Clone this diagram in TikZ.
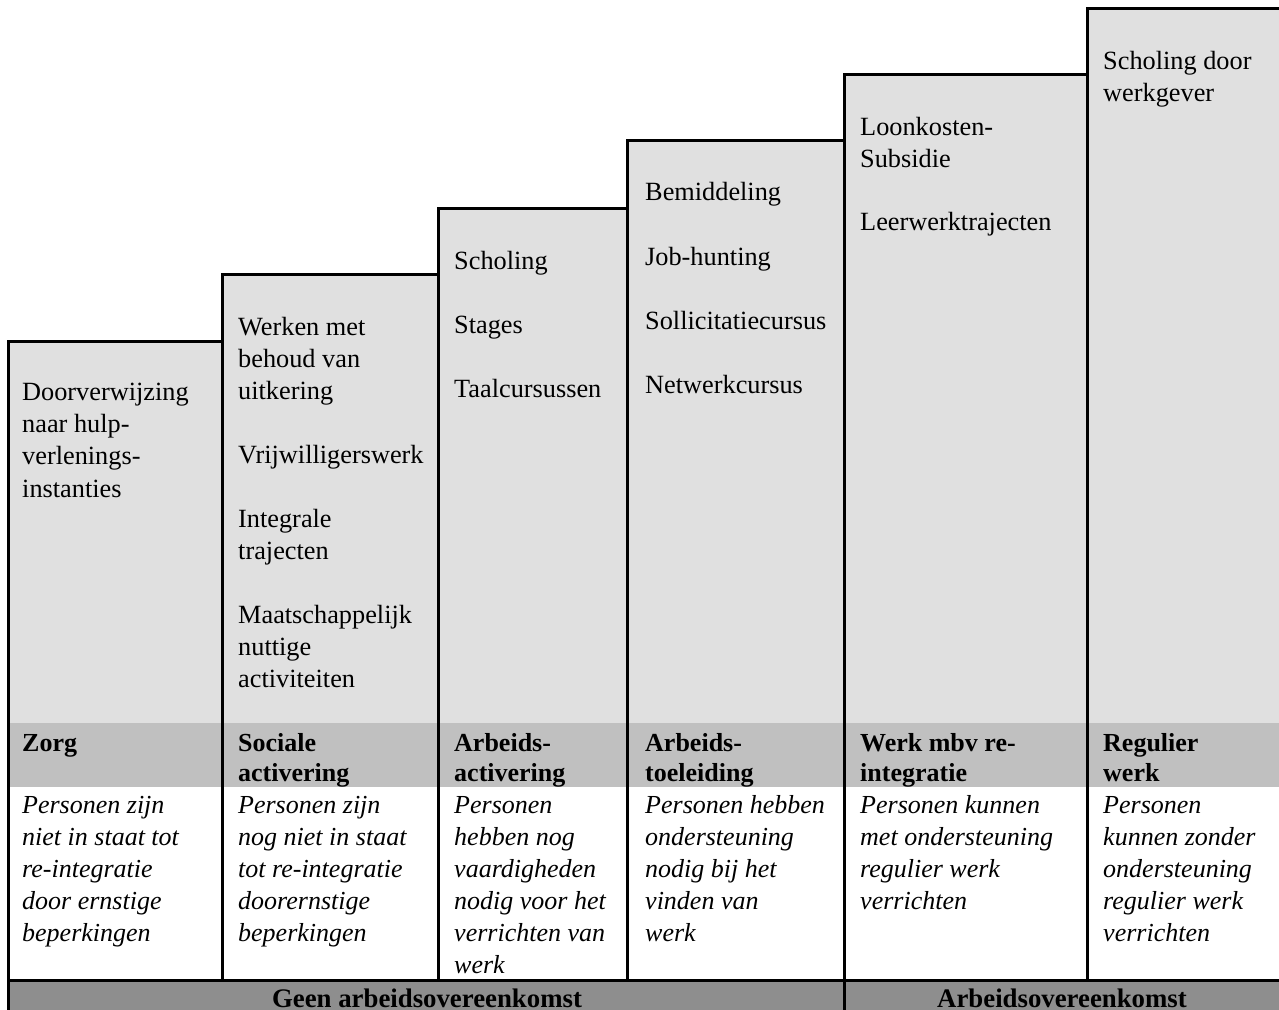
\documentclass[tikz,border=0pt]{standalone}
\usepackage{fontspec}
\setmainfont{Liberation Serif}
\definecolor{lightgr}{HTML}{E0E0E0}
\definecolor{bandgr}{HTML}{C0C0C0}
\definecolor{bargr}{HTML}{8E8E8E}
\begin{document}
\begin{tikzpicture}[x=1pt,y=-1pt,
  txt/.style={anchor=base west, inner sep=0pt, align=left, font=\fontsize{26.3}{32.4}\selectfont},
  hdr/.style={anchor=base west, inner sep=0pt, align=left, font=\fontsize{26}{30.5}\selectfont\bfseries},
  desc/.style={anchor=base west, inner sep=0pt, align=left, font=\fontsize{26}{32.1}\selectfont\itshape},
  bar/.style={anchor=base, inner sep=0pt, font=\fontsize{26.8}{30}\selectfont\bfseries},
  edge/.style={line width=3pt, black}]
\path[use as bounding box] (0,0) rectangle (1279,1009);
\clip (0,0) rectangle (1279,1009);
\fill[white] (0,0) rectangle (1279,1009);
% column fills
\fill[lightgr] (8,341) rectangle (222,723);
\fill[lightgr] (222,274) rectangle (438,723);
\fill[lightgr] (438,208) rectangle (627,723);
\fill[lightgr] (627,140) rectangle (844,723);
\fill[lightgr] (844,74) rectangle (1087,723);
\fill[lightgr] (1087,8) rectangle (1279,723);
\fill[bandgr] (8,723) rectangle (1279,787);
\fill[bargr] (8,980) rectangle (1279,1015);
% outlines
\draw[edge] (8,1015) -- (8,341) -- (222,341) -- (222,274) -- (438,274) -- (438,208)
  -- (627,208) -- (627,140) -- (844,140) -- (844,74) -- (1087,74) -- (1087,8) -- (1285,8);
\draw[edge] (222,341) -- (222,980);
\draw[edge] (438,274) -- (438,980);
\draw[edge] (627,208) -- (627,980);
\draw[edge] (844,140) -- (844,1015);
\draw[edge] (1087,74) -- (1087,980);
\draw[edge] (8,980) -- (1285,980);
% column 1 (anchor = baseline of the last line)
\node[txt] (c1a) at (22,497.2) {Doorverwijzing\\naar hulp-\\verlenings-\\instanties};
% column 2
\node[txt] (c2a) at (238,399.8) {Werken met\\behoud van\\uitkering};
\node[txt] (c2b) at (238,463) {Vrijwilligerswerk};
\node[txt] (c2c) at (238,559.4) {Integrale\\trajecten};
\node[txt] (c2d) at (238,687.8) {Maatschappelijk\\nuttige\\activiteiten};
% column 3
\node[txt] (c3a) at (454,269) {Scholing};
\node[txt] (c3b) at (454,333) {Stages};
\node[txt] (c3c) at (454,397) {Taalcursussen};
% column 4
\node[txt] (c4a) at (645,200) {Bemiddeling};
\node[txt] (c4b) at (645,265) {Job-hunting};
\node[txt] (c4c) at (645,329) {Sollicitatiecursus};
\node[txt] (c4d) at (645,393) {Netwerkcursus};
% column 5
\node[txt] (c5a) at (860,167.4) {Loonkosten-\\Subsidie};
\node[txt] (c5b) at (860,230) {Leerwerktrajecten};
% column 6
\node[txt] (c6a) at (1103,101.4) {Scholing door\\werkgever};
% headers
\node[hdr] (h1) at (22,751) {Zorg};
\node[hdr] (h2) at (238,781.5) {Sociale\\activering};
\node[hdr] (h3) at (454,781.5) {Arbeids-\\activering};
\node[hdr] (h4) at (645,781.5) {Arbeids-\\toeleiding};
\node[hdr] (h5) at (860,781.5) {Werk mbv re-\\integratie};
\node[hdr] (h6) at (1103,781.5) {Regulier\\werk};
% descriptions
\node[desc] (d1) at (22,941.4) {Personen zijn\\niet in staat tot\\re-integratie\\door ernstige\\beperkingen};
\node[desc] (d2) at (238,941.4) {Personen zijn\\nog niet in staat\\tot re-integratie\\doorernstige\\beperkingen};
\node[desc] (d3) at (454,973.5) {Personen\\hebben nog\\vaardigheden\\nodig voor het\\verrichten van\\werk};
\node[desc] (d4) at (645,941.4) {Personen hebben\\ondersteuning\\nodig bij het\\vinden van\\werk};
\node[desc] (d5) at (860,909.3) {Personen kunnen\\met ondersteuning\\regulier werk\\verrichten};
\node[desc] (d6) at (1103,941.4) {Personen\\kunnen zonder\\ondersteuning\\regulier werk\\verrichten};
% bottom bar
\node[bar] (b1) at (427,1007) {Geen arbeidsovereenkomst};
\node[bar] (b2) at (1062,1007) {Arbeidsovereenkomst};
\end{tikzpicture}
\end{document}
